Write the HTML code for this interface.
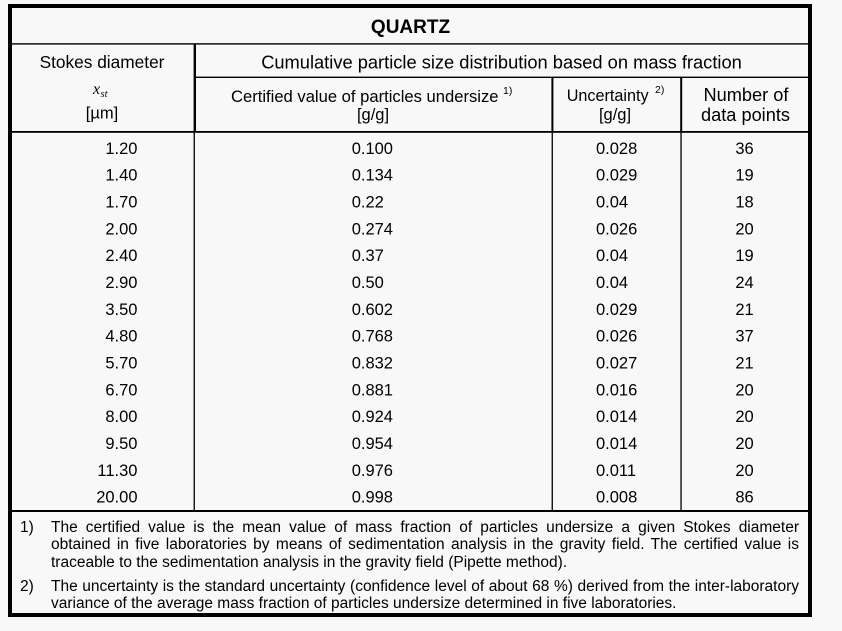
<!DOCTYPE html>
<html>
<head>
<meta charset="utf-8">
<style>
  html, body { margin:0; padding:0; background:#f8f8f8; }
  body { width:842px; height:631px; position:relative; overflow:hidden; font-family:"Liberation Sans", Arial, sans-serif; color:#000; }
  svg { position:absolute; left:0; top:0; }
  .fn { position:absolute; font-size:15.5px; line-height:17.7px; white-space:nowrap; color:#000; }
  .j { text-align:justify; text-align-last:justify; white-space:normal; width:748px; left:51px; }
  .l { left:51px; }
  .num { left:20px; }
</style>
</head>
<body>
<svg width="842" height="631" viewBox="0 0 842 631" xmlns="http://www.w3.org/2000/svg">
  <!-- outer border -->
  <rect x="8" y="4" width="804" height="613" fill="#000"/>
  <rect x="12" y="8" width="796" height="605" fill="#f8f8f8"/>
  <!-- horizontal lines -->
  <rect x="12" y="43.2" width="796" height="1.4" fill="#000"/>
  <rect x="196" y="76.6" width="612" height="1.4" fill="#000"/>
  <rect x="12" y="131" width="796" height="1.8" fill="#000"/>
  <rect x="12" y="510" width="796" height="2" fill="#000"/>
  <!-- vertical lines -->
  <rect x="193.6" y="44" width="2.4" height="88" fill="#000"/>
  <rect x="193.6" y="132" width="1.3" height="378" fill="#000"/>
  <rect x="551.4" y="77" width="2" height="55" fill="#000"/>
  <rect x="551.6" y="132" width="1.3" height="378" fill="#000"/>
  <rect x="680.2" y="77" width="2" height="55" fill="#000"/>
  <rect x="680.4" y="132" width="1.3" height="378" fill="#000"/>

  <g font-family="Liberation Sans, Arial, sans-serif" fill="#000">
    <text x="410.5" y="33" font-size="19" font-weight="bold" text-anchor="middle">QUARTZ</text>
    <text x="102" y="67.8" font-size="17.3" text-anchor="middle">Stokes diameter</text>
    <text x="501.5" y="68.3" font-size="18.3" text-anchor="middle">Cumulative particle size distribution based on mass fraction</text>

    <text x="93" y="94" font-size="16" font-style="italic" font-family="Liberation Serif, serif">x</text>
    <text x="100.5" y="97" font-size="10.5" font-style="italic" font-family="Liberation Serif, serif">st</text>
    <text x="102" y="118.5" font-size="16.5" text-anchor="middle">[µm]</text>

    <text x="231" y="101.8" font-size="16.6">Certified value of particles undersize</text>
    <text x="503" y="94" font-size="10.5">1)</text>
    <text x="373" y="120" font-size="16.5" text-anchor="middle">[g/g]</text>

    <text x="566.7" y="101" font-size="16.2">Uncertainty</text>
    <text x="655" y="93" font-size="10.5">2)</text>
    <text x="615" y="120" font-size="16.5" text-anchor="middle">[g/g]</text>

    <text x="746" y="101" font-size="18.2" text-anchor="middle">Number of</text>
    <text x="745.5" y="121" font-size="18.2" text-anchor="middle">data points</text>

    <g font-size="16.5">
      <g text-anchor="end">
        <text x="137.5" y="153.8">1.20</text>
        <text x="137.5" y="180.6">1.40</text>
        <text x="137.5" y="207.5">1.70</text>
        <text x="137.5" y="234.3">2.00</text>
        <text x="137.5" y="261.1">2.40</text>
        <text x="137.5" y="288.0">2.90</text>
        <text x="137.5" y="314.8">3.50</text>
        <text x="137.5" y="341.6">4.80</text>
        <text x="137.5" y="368.4">5.70</text>
        <text x="137.5" y="395.3">6.70</text>
        <text x="137.5" y="422.1">8.00</text>
        <text x="137.5" y="448.9">9.50</text>
        <text x="137.5" y="475.8">11.30</text>
        <text x="137.5" y="502.6">20.00</text>
      </g>
      <g>
        <text x="351.7" y="153.8">0.100</text>
        <text x="351.7" y="180.6">0.134</text>
        <text x="351.7" y="207.5">0.22</text>
        <text x="351.7" y="234.3">0.274</text>
        <text x="351.7" y="261.1">0.37</text>
        <text x="351.7" y="288.0">0.50</text>
        <text x="351.7" y="314.8">0.602</text>
        <text x="351.7" y="341.6">0.768</text>
        <text x="351.7" y="368.4">0.832</text>
        <text x="351.7" y="395.3">0.881</text>
        <text x="351.7" y="422.1">0.924</text>
        <text x="351.7" y="448.9">0.954</text>
        <text x="351.7" y="475.8">0.976</text>
        <text x="351.7" y="502.6">0.998</text>
      </g>
      <g>
        <text x="596" y="153.8">0.028</text>
        <text x="596" y="180.6">0.029</text>
        <text x="596" y="207.5">0.04</text>
        <text x="596" y="234.3">0.026</text>
        <text x="596" y="261.1">0.04</text>
        <text x="596" y="288.0">0.04</text>
        <text x="596" y="314.8">0.029</text>
        <text x="596" y="341.6">0.026</text>
        <text x="596" y="368.4">0.027</text>
        <text x="596" y="395.3">0.016</text>
        <text x="596" y="422.1">0.014</text>
        <text x="596" y="448.9">0.014</text>
        <text x="596" y="475.8">0.011</text>
        <text x="596" y="502.6">0.008</text>
      </g>
      <g text-anchor="middle">
        <text x="744.5" y="153.8">36</text>
        <text x="744.5" y="180.6">19</text>
        <text x="744.5" y="207.5">18</text>
        <text x="744.5" y="234.3">20</text>
        <text x="744.5" y="261.1">19</text>
        <text x="744.5" y="288.0">24</text>
        <text x="744.5" y="314.8">21</text>
        <text x="744.5" y="341.6">37</text>
        <text x="744.5" y="368.4">21</text>
        <text x="744.5" y="395.3">20</text>
        <text x="744.5" y="422.1">20</text>
        <text x="744.5" y="448.9">20</text>
        <text x="744.5" y="475.8">20</text>
        <text x="744.5" y="502.6">86</text>
      </g>
    </g>
  </g>
</svg>

<div class="fn num" style="top:518.5px;">1)</div>
<div class="fn j" style="top:518.5px;">The certified value is the mean value of mass fraction of particles undersize a given Stokes diameter</div>
<div class="fn j" style="top:536.2px;">obtained in five laboratories by means of sedimentation analysis in the gravity field. The certified value is</div>
<div class="fn l" style="top:553.9px;">traceable to the sedimentation analysis in the gravity field (Pipette method).</div>

<div class="fn num" style="top:577.6px;">2)</div>
<div class="fn j" style="top:577.6px;">The uncertainty is the standard uncertainty (confidence level of about 68 %) derived from the inter-laboratory</div>
<div class="fn l" style="top:595.3px;">variance of the average mass fraction of particles undersize determined in five laboratories.</div>
</body>
</html>
